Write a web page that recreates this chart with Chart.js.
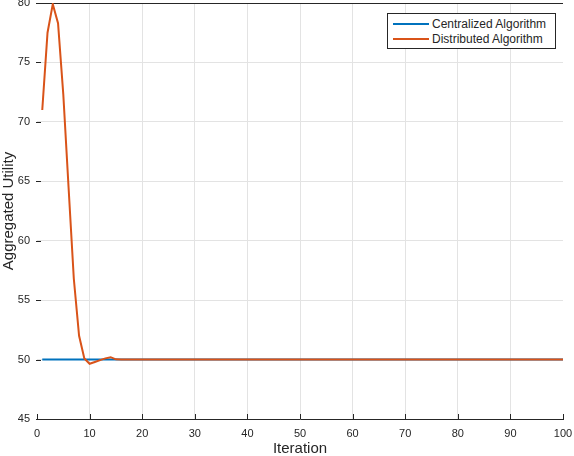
<!DOCTYPE html>
<html>
<head>
<meta charset="utf-8">
<script src="https://cdn.jsdelivr.net/npm/chart.js@4/dist/chart.umd.min.js"></script>
<style>
  html, body { margin: 0; padding: 0; background: #fff; }
  #wrap { position: relative; width: 574px; height: 456px; }
  #legend { position: absolute; left: 387px; top: 13px; width: 167px; height: 34px;
    border: 1px solid #262626; background: #fff;
    font: 12px "Liberation Sans", Arial, sans-serif; color: #262626; }
  .row { position: absolute; left: 0; height: 15px; line-height: 15px; white-space: nowrap; }
  .sw { position: absolute; left: 5px; top: 6px; width: 36px; height: 2px; }
  .lab { position: absolute; left: 44px; top: 0; }
</style>
</head>
<body>
<div id="wrap">
  <canvas id="c" width="574" height="456"></canvas>
  <div id="legend">
    <div class="row" style="top:3px"><span class="sw" style="background:#0072BD"></span><span class="lab">Centralized Algorithm</span></div>
    <div class="row" style="top:18px"><span class="sw" style="background:#D95319"></span><span class="lab">Distributed Algorithm</span></div>
  </div>
</div>
<script>
const iterations = [1,2,3,4,5,6,7,8,9,10,11,12,13,14,15,16,17,18,19,20,
  21,22,23,24,25,26,27,28,29,30,31,32,33,34,35,36,37,38,39,40,
  41,42,43,44,45,46,47,48,49,50,51,52,53,54,55,56,57,58,59,60,
  61,62,63,64,65,66,67,68,69,70,71,72,73,74,75,76,77,78,79,80,
  81,82,83,84,85,86,87,88,89,90,91,92,93,94,95,96,97,98,99,100];
const centralized = [50,50,50,50,50,50,50,50,50,50,50,50,50,50,50,50,50,50,50,50,
  50,50,50,50,50,50,50,50,50,50,50,50,50,50,50,50,50,50,50,50,
  50,50,50,50,50,50,50,50,50,50,50,50,50,50,50,50,50,50,50,50,
  50,50,50,50,50,50,50,50,50,50,50,50,50,50,50,50,50,50,50,50,
  50,50,50,50,50,50,50,50,50,50,50,50,50,50,50,50,50,50,50,50];
const distributed = [71.0,77.5,79.9,78.3,72.3,64.5,56.8,52.0,50.1,49.65,49.8,49.95,50.1,50.2,50.02,50,50,50,50,50,
  50,50,50,50,50,50,50,50,50,50,50,50,50,50,50,50,50,50,50,50,
  50,50,50,50,50,50,50,50,50,50,50,50,50,50,50,50,50,50,50,50,
  50,50,50,50,50,50,50,50,50,50,50,50,50,50,50,50,50,50,50,50,
  50,50,50,50,50,50,50,50,50,50,50,50,50,50,50,50,50,50,50,50];
const seriesNames = ["Centralized Algorithm", "Distributed Algorithm"];
const xTitle = "Iteration";
const yTitle = "Aggregated Utility";

const FONT = '"Liberation Sans", Arial, sans-serif';
const AXIS = '#262626';
const GRID = '#e3e3e3';

const toPts = (ys) => iterations.map((x, i) => ({ x: x, y: ys[i] }));

const inwardTicks = {
  id: 'inwardTicks',
  afterDraw(chart) {
    const ctx = chart.ctx, xs = chart.scales.x, ys = chart.scales.y, a = chart.chartArea;
    ctx.save();
    ctx.strokeStyle = AXIS;
    ctx.lineWidth = 1;
    ctx.beginPath();
    xs.ticks.forEach(t => {
      const px = Math.round(xs.getPixelForValue(t.value)) + 0.5;
      ctx.moveTo(px, a.bottom); ctx.lineTo(px, a.bottom - 5);
    });
    ys.ticks.forEach(t => {
      const py = Math.round(ys.getPixelForValue(t.value)) + 0.5;
      ctx.moveTo(a.left - 1, py); ctx.lineTo(a.left + 4, py);
    });
    ctx.stroke();
    ctx.restore();
  }
};

function zeroPad(s) { s.paddingTop = 0; s.paddingBottom = 0; s.paddingLeft = 0; s.paddingRight = 0; }

new Chart(document.getElementById('c'), {
  type: 'line',
  data: {
    datasets: [
      { label: seriesNames[0], data: toPts(centralized), borderColor: '#0072BD', borderWidth: 2,
        pointRadius: 0, tension: 0, fill: false, order: 1 },
      { label: seriesNames[1], data: toPts(distributed), borderColor: '#D95319', borderWidth: 2,
        pointRadius: 0, tension: 0, fill: false, order: 0 }
    ]
  },
  options: {
    responsive: false,
    animation: false,
    devicePixelRatio: 1,
    layout: { padding: { top: 3, right: 11, left: 0, bottom: 0 } },
    plugins: { legend: { display: false }, tooltip: { enabled: false } },
    scales: {
      x: {
        type: 'linear', min: 0, max: 100,
        ticks: { stepSize: 10, color: AXIS, padding: 8, font: { family: FONT, size: 11 }, maxRotation: 0 },
        grid: { drawTicks: false, color: (c) => (c.tick && (c.tick.value === 0 || c.tick.value === 100)) ? 'rgba(0,0,0,0)' : GRID },
        border: { display: true, color: AXIS, width: 1 },
        title: { display: true, text: xTitle, color: AXIS, font: { family: FONT, size: 15 }, padding: { top: 0, bottom: -2 } },
        afterFit(s) { s.height = 37; zeroPad(s); }
      },
      y: {
        min: 45, max: 80,
        ticks: { stepSize: 5, color: AXIS, padding: 7, font: { family: FONT, size: 11 } },
        grid: { drawTicks: false, color: (c) => {
          if (!c.tick) return GRID;
          if (c.tick.value === 80) return AXIS;
          if (c.tick.value === 45) return 'rgba(0,0,0,0)';
          return GRID; } },
        border: { display: false },
        title: { display: true, text: yTitle, color: AXIS, font: { family: FONT, size: 15 }, padding: { top: 0, bottom: 0 } },
        afterFit(s) { s.width = 37; zeroPad(s); }
      }
    }
  },
  plugins: [inwardTicks]
});
</script>
</body>
</html>
